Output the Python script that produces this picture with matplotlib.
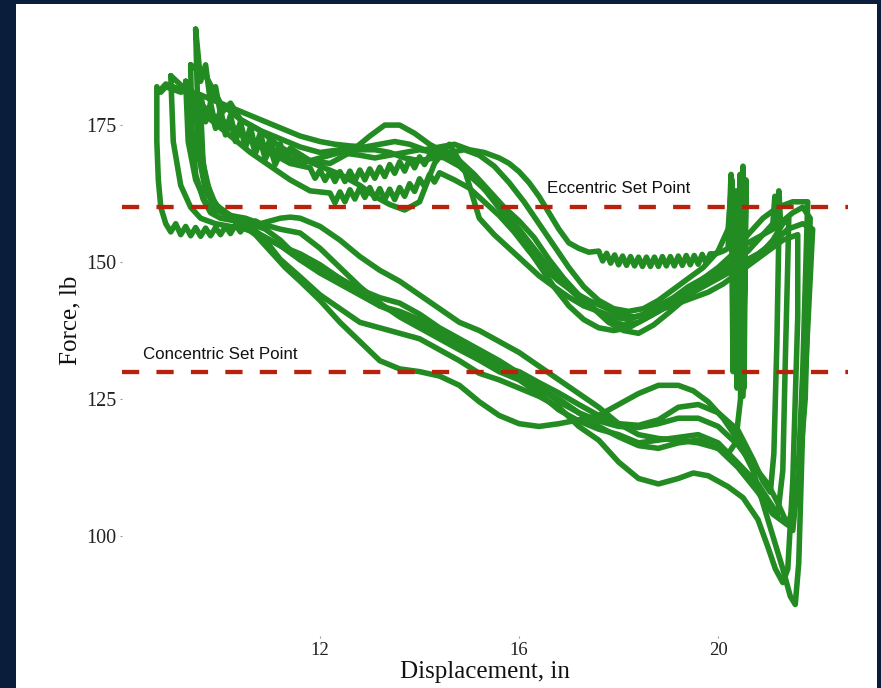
import matplotlib
matplotlib.use("Agg")
import matplotlib.pyplot as plt
from matplotlib.patches import Rectangle

# ---- data (displacement in inches, force in lb) ----
eccentric_set = 160
concentric_set = 130

# rep 1: lower (concentric) branch, then upper (eccentric) branch
lo1_x = [8.72, 8.72, 8.75, 8.8, 8.9, 9.0, 9.1, 9.2, 9.3, 9.4, 9.5, 9.6, 9.7, 9.8, 9.9, 10.0, 10.1, 10.2,
         10.3, 10.4, 10.5, 10.6, 10.7, 10.8, 11.0, 11.2, 11.4, 11.6, 12.0, 12.4, 12.8, 13.2, 13.6, 14.0,
         14.4, 14.8, 15.2, 15.6, 16.0, 16.4, 16.8, 17.2, 17.6, 18.0, 18.4, 18.8, 19.2, 19.6, 20.0, 20.4,
         20.8, 21.1, 21.4, 21.6, 21.75]
lo1_y = [182, 172, 165, 160, 157, 155.5, 157, 155, 156.5, 154.8, 156.3, 154.7, 156.2, 154.8, 156.3, 155,
         156.5, 155.2, 156.8, 155.5, 157, 156, 157.5, 157, 157.5, 158, 158.2, 158, 156.5, 154, 151, 148.5,
         146.5, 144, 141.5, 139, 137.5, 135.5, 133.5, 131, 128.5, 126, 123.5, 120.5, 118.5, 117.8, 117.5,
         117, 116, 112.5, 108, 104, 102, 108, 125]
up1_x = [21.85, 21.7, 21.5, 21.3, 21.1, 20.9, 20.7, 20.5, 20.42, 20.38, 20.34, 20.3, 20.26, 20.2, 20.1,
         19.95,
         19.84, 19.76, 19.68, 19.60, 19.52, 19.44, 19.36, 19.28, 19.20, 19.12, 19.04, 18.96, 18.88, 18.80,
         18.72, 18.64, 18.56, 18.48, 18.40, 18.32, 18.24, 18.16, 18.08, 18.00, 17.92, 17.84, 17.76, 17.68,
         17.60, 17.4, 17.2, 17.0, 16.8, 16.6, 16.4, 16.2, 16.0, 15.8, 15.6, 15.3, 15.0, 14.7, 14.4, 14.1,
         13.8, 13.5, 13.2, 12.9, 12.6, 12.3, 12.0, 11.6, 11.2, 10.8, 10.4, 10.0, 9.6, 9.2, 8.9, 8.75]
up1_y = [158, 160, 159, 157.5, 156, 155, 154, 153, 163, 127, 160, 130, 166, 152.5, 152,
         151.5,
         151.5, 149.8, 151.4, 149.6, 151.2, 149.5, 151.2, 149.4, 151.1, 149.3, 151.0, 149.3, 151.0, 149.2,
         150.9, 149.2, 150.9, 149.2, 150.9, 149.3, 151.0, 149.4, 151.1, 149.5, 151.3, 149.8, 151.6, 150.2,
         152.0, 151.8, 152.5, 153.5, 156, 159, 162, 164.5, 166.5, 168, 169, 170, 170.5, 171.5, 171, 170.5,
         171.5, 172, 171.5, 171, 171.2, 171.5, 172, 173, 174.5, 176, 177.5, 179, 180.5, 181.5, 182.5, 181]

# rep 2
lo2_x = [9.5, 9.55, 9.7, 9.9, 10.1, 10.4, 10.7, 11.0, 11.3, 11.6, 12.0, 12.4, 12.8, 13.2, 13.6, 14.0,
         14.4, 14.8, 15.2, 15.6, 16.0, 16.4, 16.8, 17.2, 17.6, 18.0, 18.4, 18.8, 19.2, 19.5, 19.8, 20.1,
         20.4, 20.7, 20.9, 21.1, 21.3, 21.45, 21.55, 21.62, 21.7]
lo2_y = [180, 170, 163, 160, 158.5, 157, 155, 152, 149, 146.5, 143, 139, 135.5, 132, 130.5, 130, 129.2,
         127.5, 124.5, 122, 120.5, 120, 120.5, 121.2, 122, 124, 126, 127.5, 127.5, 126.5, 124.5, 121.5,
         117.5, 112, 106, 100, 94, 89, 87.5, 95, 120]
up2_x = [21.9, 21.7, 21.4, 21.1, 20.8, 20.5, 20.2, 19.9, 19.6, 19.3, 19.0, 18.7, 18.4, 18.1, 17.8, 17.5,
         17.2, 16.9, 16.6, 16.3, 16.0, 15.7, 15.4, 15.1, 14.8, 14.5, 14.2, 13.9, 13.6, 13.3, 13.0, 12.6,
         12.2, 11.8,
         11.4, 11.3, 11.2, 11.1, 11.0, 10.9, 10.8, 10.7, 10.6, 10.5, 10.4, 10.3, 10.2, 10.1, 10.0, 9.9,
         9.8, 9.7, 9.6, 9.5, 9.4, 9.2, 8.9, 8.8]
up2_y = [156, 157, 156, 153.5, 151.5, 150, 149, 147.5, 145.5, 143, 140.7, 138.5, 137, 137.5, 139, 141.5,
         144, 147, 150.5, 154.5, 157.5, 160, 163, 166, 168.5, 170, 171.5, 173.5, 175, 175, 173, 170,
         168, 168.5,
         170.8, 168.6, 171.6, 169.2, 172.6, 170.0, 173.6, 170.8, 174.6, 171.8, 175.6, 172.8, 176.8, 173.8,
         177.8, 174.8, 179, 176, 180.5, 178.5, 181.5, 181, 182, 181]

# rep 3
lo3_x = [9.4, 9.42, 9.5, 9.65, 9.8, 10.0, 10.3, 10.6, 10.9, 11.2, 11.6, 12.0, 12.4, 12.8, 13.2, 13.6,
         14.0, 14.4, 14.8, 15.2, 15.6, 16.0, 16.4, 16.8, 17.2, 17.6, 18.0, 18.4, 18.8, 19.2, 19.6, 20.0,
         20.4, 20.7, 21.0, 21.2, 21.35, 21.5, 21.6, 21.7]
lo3_y = [186, 175, 166, 161.5, 159, 158, 157.5, 157, 156, 154, 150.4, 149, 147, 145, 143.5, 142.5, 140.5,
         138, 136, 134, 132, 129.7, 127, 124.5, 122.5, 121, 120, 119.8, 120.5, 121.5, 121.5, 120, 116.6,
         113, 109.5, 106, 103, 101, 110, 130]
up3_x = [21.8, 21.5, 21.2, 20.9, 20.6, 20.3, 20.0, 19.7, 19.4, 19.1, 18.8, 18.5, 18.2, 17.9, 17.6, 17.3,
         17.0, 16.7, 16.4, 16.1, 15.8, 15.5, 15.2, 14.9, 14.6, 14.3, 14.0, 13.7, 13.4, 13.1, 12.8, 12.4,
         12.0, 11.6, 11.2, 10.8, 10.4, 10.0, 9.7, 9.4]
up3_y = [161, 161, 160, 158, 155, 151.5, 149, 147, 145.5, 143.5, 142, 140.5, 139.5, 140, 141, 142, 143.6,
         145.5, 147.5, 150, 152.5, 155, 158, 167, 171.5, 168, 161, 159.5, 160.5, 162, 164, 166, 167.5, 169,
         171, 174, 176, 179, 184, 186]

# rep 4
lo4_x = [9.3, 9.35, 9.5, 9.7, 9.9, 10.2, 10.5, 10.8, 11.2, 11.6, 12.0, 12.4, 12.8, 13.2, 13.6, 14.0,
         14.4, 14.8, 15.2, 15.6, 16.0, 16.4, 16.8, 17.2, 17.6, 18.0, 18.4, 18.8, 19.2, 19.6, 20.0, 20.4,
         20.8, 21.05, 21.2, 21.3, 21.35, 21.4]
lo4_y = [183, 172, 165, 161, 159.5, 158.5, 158, 157, 156, 155.3, 152.5, 149, 145.5, 142.5, 140, 138, 136,
         134, 132.1, 130, 128.5, 126, 123, 121, 119.5, 118.5, 117, 117.5, 118, 118.5, 117, 113.3, 109.5,
         106, 104, 112, 132, 150]
up4_x = [21.42, 21.3, 21.1, 20.8, 20.5, 20.2, 19.9, 19.6, 19.3, 19.0, 18.7, 18.4, 18.1, 17.8, 17.5, 17.2,
         16.9, 16.6, 16.3, 16.0, 15.7, 15.4, 15.1, 14.8, 14.5,
         14.2, 14.1, 14.0, 13.9, 13.8, 13.7, 13.6, 13.5, 13.4, 13.3, 13.2, 13.1, 13.0, 12.9, 12.8, 12.7,
         12.6, 12.5, 12.4, 12.3, 12.2, 12.1, 12.0, 11.9, 11.8,
         11.4, 11.0, 10.6, 10.2, 9.8, 9.5, 9.3]
up4_y = [158, 157, 154, 151, 149, 148, 146.5, 145, 143.5, 142, 140.5, 139, 138.5, 139.5, 141.5, 143.5,
         146, 149, 152.5, 156, 159.5, 162.5, 165, 167.5, 169,
         169.5, 167.8, 169.2, 167.2, 168.8, 166.6, 168.3, 166.2, 167.8, 165.6, 167.3, 165.3, 167.0, 165.0,
         166.8, 164.8, 166.6, 164.7, 166.5, 164.7, 166.5, 164.9, 166.8, 165.3, 167.2,
         168, 170, 172.5, 175, 177, 180, 183]

# rep 5
lo5_x = [9.6, 9.65, 9.8, 10.0, 10.3, 10.6, 10.9, 11.2, 11.6, 12.0, 12.4, 12.8, 13.2, 13.6, 14.0, 14.4,
         14.8, 15.2, 15.6, 16.0, 16.4, 16.8, 17.2, 17.6, 18.0, 18.4, 18.8, 19.2, 19.5, 19.8, 20.2, 20.5,
         20.8, 21.0, 21.15, 21.3, 21.4, 21.5, 21.6]
lo5_y = [178, 168, 162, 159.5, 158, 156.5, 154, 150.5, 147.3, 144, 141.5, 139, 138, 137, 136, 134, 132,
         129.7, 128.5, 127, 125.5, 123.5, 120, 117.5, 113.5, 110.5, 109.5, 110.5, 111.5, 111, 109, 107,
         103, 98, 94, 91.5, 94, 110, 140]
up5_x = [21.6, 21.3, 21.0, 20.7, 20.4, 20.1, 19.8, 19.5, 19.2, 18.9, 18.6, 18.3, 18.0, 17.7, 17.4, 17.1,
         16.8, 16.5, 16.2, 15.9, 15.6, 15.3, 15.0, 14.7,
         14.4, 14.3, 14.2, 14.1, 14.0, 13.9, 13.8, 13.7, 13.6, 13.5, 13.4, 13.3, 13.2, 13.1, 13.0, 12.9,
         12.8, 12.7, 12.6, 12.5, 12.4, 12.3, 12.2,
         11.8, 11.4, 11.0, 10.6, 10.2, 9.8, 9.6]
up5_y = [155, 154, 152, 150, 148, 146, 144.5, 143.5, 142.5, 141.5, 140.5, 140, 140.5, 141.8, 143, 144.5,
         146.5, 149, 152, 155.5, 158.5, 161, 163.5, 165,
         166.3, 164.6, 166.0, 163.8, 165.2, 162.9, 164.3, 162.0, 163.6, 161.4, 163.3, 161.4, 163.4, 161.6,
         163.6, 161.8, 163.6, 161.5, 163.2, 161.0, 162.8, 160.8, 162.6,
         163, 165, 167.5, 170, 173, 176, 178]

# rep 6: short rep, turns around near 20.5 in with force spikes
lo6_x = [9.5, 9.55, 9.7, 9.9, 10.2, 10.5, 10.8, 11.2, 11.6, 12.0, 12.4, 12.8, 13.2, 13.6, 14.0, 14.4,
         14.8, 15.2, 15.6, 16.0, 16.4, 16.8, 17.2, 17.6, 18.0, 18.4, 18.8, 19.2, 19.6, 20.0, 20.2, 20.35,
         20.45]
lo6_y = [192.5, 175, 165, 160.5, 158.5, 157, 155, 153, 150.4, 148, 146, 144, 142, 140.5, 138.5, 137,
         135.5, 133.9, 131.5, 129, 127, 125, 122.5, 120, 118.1, 116.5, 116, 117, 117.5, 116, 115, 117, 125]
up6_x = [20.47, 20.5, 20.52, 20.56, 20.5, 20.44, 20.4, 20.36, 20.32, 20.28, 20.2, 20.0, 19.7, 19.4, 19.1,
         18.8, 18.5, 18.2, 17.9, 17.6, 17.3, 17.0, 16.7, 16.4, 16.1, 15.8, 15.5, 15.2, 14.9, 14.6, 14.3,
         14.0, 13.7, 13.4, 13.1, 12.8, 12.4, 12.0, 11.6, 11.2, 10.8, 10.4, 10.2, 10.0, 9.9, 9.8, 9.7, 9.6,
         9.5]
up6_y = [140, 167.5, 127, 165, 125.5, 166, 128, 163, 150, 165, 156, 152, 149, 147, 145, 143, 141.5, 141,
         141.5, 143, 145.5, 149, 153, 157, 161, 164.5, 167.5, 169.5, 170.5, 170, 169, 168.5, 169, 170,
         170.5, 170.5, 170.5, 170, 171, 172.5, 174, 176, 179, 177, 182, 179, 186, 183, 192.5]

# rep 7
lo7_x = [9.0, 9.05, 9.2, 9.4, 9.6, 9.9, 10.2, 10.5, 10.8, 11.2, 11.6, 12.0, 12.4, 12.8, 13.2, 13.6, 14.0,
         14.4, 14.8, 15.2, 15.6, 16.0, 16.4, 16.8, 17.2, 17.6, 18.0, 18.4, 18.8, 19.2, 19.6, 20.0, 20.4,
         20.7, 20.9, 21.05, 21.12, 21.18, 21.22]
lo7_y = [184, 172, 164, 160, 158, 157, 156.5, 156, 155, 153, 151.5, 149.5, 147, 144.5, 142, 141, 139.5,
         137, 135, 133, 131, 130, 128, 126.1, 124, 122, 120.5, 120.2, 121.2, 123.5, 124, 122.5, 119.3, 114,
         110, 108, 115, 135, 155]
up7_x = [21.25, 21.22, 21.18, 21.14, 21.1, 20.9, 20.6, 20.3, 20.0, 19.7, 19.4, 19.1, 18.8, 18.5, 18.2,
         17.9, 17.6, 17.3, 17.0, 16.7, 16.4, 16.1, 15.8, 15.5, 15.2, 14.9, 14.6, 14.3, 14.0, 13.7, 13.4,
         13.1, 12.8, 12.4, 12.0, 11.6,
         11.2, 11.1, 11.0, 10.9, 10.8, 10.7, 10.6, 10.5, 10.4, 10.3, 10.2, 10.1, 10.0, 9.9, 9.8, 9.7, 9.6,
         9.3, 9.0]
up7_y = [158, 163, 156, 162, 157, 155, 152, 150, 148.5, 147, 145, 143, 141, 139.5, 138, 137.5, 138, 139.5,
         142, 145.5, 149.5, 153.5, 157.5, 161, 164.5, 167, 169, 170, 170.5, 170, 169.5, 169, 169.5, 170,
         169, 168,
         169.8, 167.8, 170.8, 168.8, 172.2, 169.8, 173.2, 171, 174.6, 172, 175.8, 173.2, 177, 174.4, 178.2,
         175.6, 179.5, 181.5, 184]

reps = [(lo1_x, lo1_y, up1_x, up1_y), (lo2_x, lo2_y, up2_x, up2_y), (lo3_x, lo3_y, up3_x, up3_y),
        (lo4_x, lo4_y, up4_x, up4_y), (lo5_x, lo5_y, up5_x, up5_y), (lo6_x, lo6_y, up6_x, up6_y),
        (lo7_x, lo7_y, up7_x, up7_y)]

# ---- figure ----
fig = plt.figure(figsize=(8.81, 6.88), dpi=100, facecolor='#0a1d3a')
# white slide area (behind the axes)
fig.patches.append(Rectangle((16 / 881, 0), 861 / 881, 684 / 688, transform=fig.transFigure,
                             facecolor='white', edgecolor='none', zorder=-10))

ax = fig.add_axes([122 / 881, 52 / 688, 726 / 881, 632 / 688])
ax.set_zorder(5)
ax.set_facecolor('none')

for lx, ly, ux, uy in reps:
    ax.plot(lx + ux, ly + uy, color='#228B22', lw=4.0, solid_joinstyle='round',
            solid_capstyle='round', zorder=2)

ax.axhline(eccentric_set, color='#b8210c', lw=3.1, ls=(0, (4, 4)), zorder=3)
ax.axhline(concentric_set, color='#b8210c', lw=3.1, ls=(0, (4, 4)), zorder=3)
ax.text(18.0, 163.5, 'Eccentric Set Point', ha='center', va='center', fontsize=12.2,
        family='Liberation Sans', color='#111111')
ax.text(10.0, 133.2, 'Concentric Set Point', ha='center', va='center', fontsize=12.2,
        family='Liberation Sans', color='#111111')

ax.set_xlim(8.02, 22.61)
ax.set_ylim(81.75, 197.1)
ax.set_xticks([12, 16, 20])
ax.set_yticks([100, 125, 150, 175])
for s in ax.spines.values():
    s.set_visible(False)
ax.tick_params(axis='both', length=1.5, width=0.8, color='#999999', pad=2.5)
for lab in ax.get_xticklabels():
    lab.set_family('Liberation Serif')
    lab.set_fontsize(13.5)
    lab.set_color('#222222')
for lab in ax.get_yticklabels():
    lab.set_family('Liberation Serif')
    lab.set_fontsize(14.5)
    lab.set_color('#222222')

ax.set_xlabel('Displacement, in', family='Liberation Serif', fontsize=18, color='#111111')
ax.set_ylabel('Force, lb', family='Liberation Serif', fontsize=18, color='#111111')
ax.xaxis.label.set_verticalalignment('center')
ax.xaxis.set_label_coords(0.5, -0.057)
ax.yaxis.label.set_verticalalignment('center')
ax.yaxis.set_label_coords(-0.0716, 0.5)

fig.savefig('out.png', dpi=100, facecolor=fig.get_facecolor())
